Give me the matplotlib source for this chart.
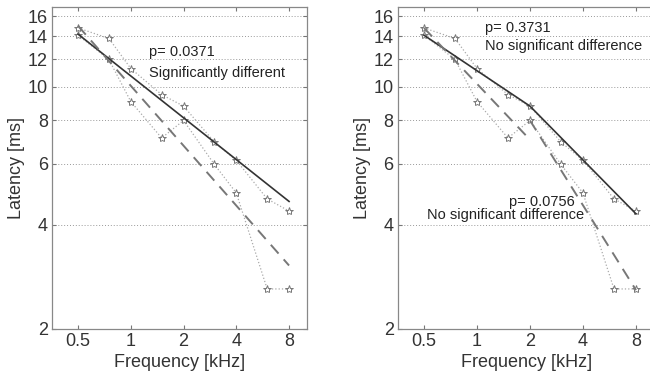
import matplotlib
matplotlib.use("Agg")
import matplotlib.pyplot as plt
import numpy as np

plt.rcParams['font.family'] = ['Liberation Sans', 'DejaVu Sans']

freq = [0.5, 0.75, 1, 1.5, 2, 3, 4, 6, 8]
series_a = [14.8, 13.8, 11.3, 9.5, 8.8, 6.93, 6.14, 4.75, 4.38]
series_b = [14.1, 12.0, 9.07, 7.12, 8.0, 5.97, 4.94, 2.61, 2.61]

# left panel: single regression lines
fit_freq_left = [0.5, 8]
fit_solid_left = [14.2, 4.67]
fit_dash_left = [15.0, 3.05]

# right panel: piecewise regression lines (break at 2 kHz)
fit_solid_right_f = [0.5, 2, 8]
fit_solid_right = [14.1, 8.8, 4.3]
fit_dash_right_f1 = [0.5, 2]
fit_dash_right_1 = [14.8, 7.04]
fit_dash_right_f2 = [2, 8]
fit_dash_right_2 = [8.0, 2.59]

xticks = [0.5, 1, 2, 4, 8]
xticklabels = ['0.5', '1', '2', '4', '8']
yticks = [2, 4, 6, 8, 10, 12, 14, 16]

fig = plt.figure(figsize=(6.5, 3.73), dpi=100)
axL = fig.add_axes([0.080, 0.118, 0.392, 0.863])
axR = fig.add_axes([0.612, 0.118, 0.395, 0.863])

star_kw = dict(marker='*', markersize=6, markerfacecolor='white',
               markeredgecolor='#777777', markeredgewidth=0.7,
               linestyle=':', color='#aaaaaa', linewidth=0.9)

for ax in (axL, axR):
    ax.set_xscale('log')
    ax.set_yscale('log')
    ax.set_ylim(2, 17)
    ax.plot(freq, series_a, **star_kw)
    ax.plot(freq, series_b, **star_kw)
    ax.set_xticks(xticks)
    ax.set_xticklabels(xticklabels)
    ax.set_yticks(yticks)
    ax.set_yticklabels([str(v) for v in yticks])
    ax.xaxis.set_minor_locator(matplotlib.ticker.NullLocator())
    ax.yaxis.set_minor_locator(matplotlib.ticker.NullLocator())
    ax.yaxis.grid(True, linestyle=(0, (1, 2)), color='#999999', linewidth=0.7)
    ax.tick_params(direction='in', top=True, right=True, labelsize=13,
                   length=3, color='#777777', pad=3)
    for s in ax.spines.values():
        s.set_color('#888888')
        s.set_linewidth(0.9)
    ax.set_xlabel('Frequency [kHz]', fontsize=13, labelpad=3, color='#333333')
    ax.set_ylabel('Latency [ms]', fontsize=13, labelpad=2, color='#333333')
    for lab in ax.get_xticklabels() + ax.get_yticklabels():
        lab.set_color('#333333')

axL.set_xlim(0.355, 10.1)
axR.set_xlim(0.355, 10.2)

axL.plot(fit_freq_left, fit_solid_left, color='#333333', linewidth=1.2)
axL.plot(fit_freq_left, fit_dash_left, color='#777777', linewidth=1.4,
         linestyle=(0, (6, 4)))
axL.text(0.38, 0.86, 'p= 0.0371', transform=axL.transAxes, fontsize=10.5,
         color='#222222', va='center', ha='left')
axL.text(0.38, 0.795, 'Significantly different', transform=axL.transAxes,
         fontsize=10.5, color='#222222', va='center', ha='left')

axR.plot(fit_solid_right_f, fit_solid_right, color='#333333', linewidth=1.2)
axR.plot(fit_dash_right_f1, fit_dash_right_1, color='#777777', linewidth=1.4,
         linestyle=(0, (6, 4)))
axR.plot(fit_dash_right_f2, fit_dash_right_2, color='#777777', linewidth=1.4,
         linestyle=(0, (6, 4)))
axR.text(0.34, 0.935, 'p= 0.3731', transform=axR.transAxes, fontsize=10.5,
         color='#222222', va='center', ha='left')
axR.text(0.34, 0.88, 'No significant difference', transform=axR.transAxes,
         fontsize=10.5, color='#222222', va='center', ha='left')
axR.text(0.69, 0.395, 'p= 0.0756', transform=axR.transAxes, fontsize=10.5,
         color='#222222', va='center', ha='right')
axR.text(0.114, 0.353, 'No significant difference', transform=axR.transAxes,
         fontsize=10.5, color='#222222', va='center', ha='left')

fig.savefig('out.png', dpi=100)
